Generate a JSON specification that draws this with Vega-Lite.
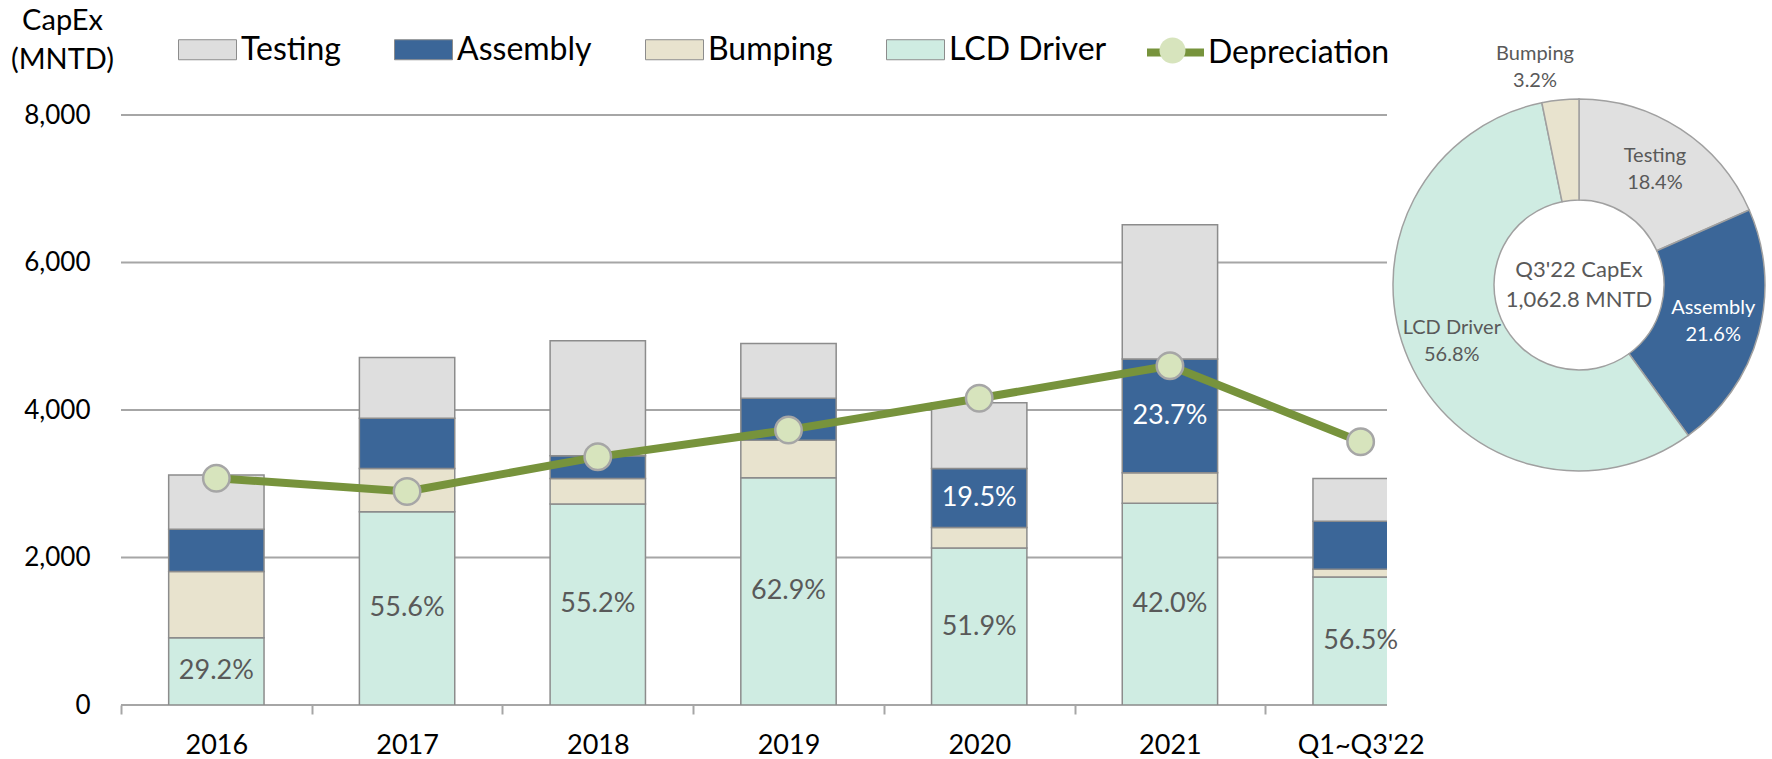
{
  "$schema": "https://vega.github.io/schema/vega-lite/v6.json",
  "background": "white",
  "padding": {"left": 10, "top": 6, "right": 0, "bottom": 0},
  "autosize": {"type": "pad"},
  "config": {
    "font": "Lato",
    "view": {"stroke": null},
    "axis": {"labelFont": "Lato", "titleFont": "Lato"},
    "legend": {"labelFont": "Lato"},
    "text": {"font": "Lato"}
  },
  "bounds": "flush",
  "spacing": 0,
  "resolve": {"scale": {"color": "independent"}, "legend": {"color": "independent"}},
  "datasets": {
    "grid": [
      {"value": 0}, {"value": 2000}, {"value": 4000}, {"value": 6000}, {"value": 8000}
    ],
    "capex": [
      {"period": "2016", "series": "LCD Driver", "k": 1, "value": 911, "label": "29.2%"},
      {"period": "2016", "series": "Bumping", "k": 2, "value": 898, "label": ""},
      {"period": "2016", "series": "Assembly", "k": 3, "value": 574, "label": ""},
      {"period": "2016", "series": "Testing", "k": 4, "value": 737, "label": ""},
      {"period": "2017", "series": "LCD Driver", "k": 1, "value": 2620, "label": "55.6%"},
      {"period": "2017", "series": "Bumping", "k": 2, "value": 586, "label": ""},
      {"period": "2017", "series": "Assembly", "k": 3, "value": 683, "label": ""},
      {"period": "2017", "series": "Testing", "k": 4, "value": 823, "label": ""},
      {"period": "2018", "series": "LCD Driver", "k": 1, "value": 2726, "label": "55.2%"},
      {"period": "2018", "series": "Bumping", "k": 2, "value": 344, "label": ""},
      {"period": "2018", "series": "Assembly", "k": 3, "value": 308, "label": ""},
      {"period": "2018", "series": "Testing", "k": 4, "value": 1560, "label": ""},
      {"period": "2019", "series": "LCD Driver", "k": 1, "value": 3083, "label": "62.9%"},
      {"period": "2019", "series": "Bumping", "k": 2, "value": 507, "label": ""},
      {"period": "2019", "series": "Assembly", "k": 3, "value": 570, "label": ""},
      {"period": "2019", "series": "Testing", "k": 4, "value": 742, "label": ""},
      {"period": "2020", "series": "LCD Driver", "k": 1, "value": 2128, "label": "51.9%"},
      {"period": "2020", "series": "Bumping", "k": 2, "value": 280, "label": ""},
      {"period": "2020", "series": "Assembly", "k": 3, "value": 800, "label": "19.5%"},
      {"period": "2020", "series": "Testing", "k": 4, "value": 892, "label": ""},
      {"period": "2021", "series": "LCD Driver", "k": 1, "value": 2735, "label": "42.0%"},
      {"period": "2021", "series": "Bumping", "k": 2, "value": 414, "label": ""},
      {"period": "2021", "series": "Assembly", "k": 3, "value": 1543, "label": "23.7%"},
      {"period": "2021", "series": "Testing", "k": 4, "value": 1820, "label": ""},
      {"period": "Q1~Q3'22", "series": "LCD Driver", "k": 1, "value": 1735, "label": "56.5%"},
      {"period": "Q1~Q3'22", "series": "Bumping", "k": 2, "value": 105, "label": ""},
      {"period": "Q1~Q3'22", "series": "Assembly", "k": 3, "value": 651, "label": ""},
      {"period": "Q1~Q3'22", "series": "Testing", "k": 4, "value": 579, "label": ""}
    ],
    "dep": [
      {"period": "2016", "value": 3075},
      {"period": "2017", "value": 2895},
      {"period": "2018", "value": 3365},
      {"period": "2019", "value": 3730},
      {"period": "2020", "value": 4160},
      {"period": "2021", "value": 4600},
      {"period": "Q1~Q3'22", "value": 3570}
    ],
    "pie": [
      {"series": "Testing", "k": 1, "share": 18.4, "lbl": "Testing\n18.4%"},
      {"series": "Assembly", "k": 2, "share": 21.6, "lbl": "Assembly\n21.6%"},
      {"series": "LCD Driver", "k": 3, "share": 56.8, "lbl": "LCD Driver\n56.8%"},
      {"series": "Bumping", "k": 4, "share": 3.2, "lbl": "Bumping\n3.2%"}
    ]
  },
  "hconcat": [
    {
      "width": 1266,
      "height": 590,
      "layer": [
        {
          "data": {"name": "grid"},
          "mark": {"type": "rule", "color": "#A6A6A6", "strokeWidth": 2},
          "encoding": {
            "y": {
              "field": "value", "type": "quantitative",
              "scale": {"domain": [0, 8000], "nice": false},
              "axis": {
                "values": [0, 2000, 4000, 6000, 8000], "format": ",.0f",
                "grid": false, "domain": false, "ticks": false,
                "labelFontSize": 26, "labelColor": "#000000", "labelPadding": 31,
                "title": ["CapEx", "(MNTD)"], "titleAngle": 0, "titleFontSize": 29,
                "titleFontWeight": "normal", "titleColor": "#000000",
                "titleAlign": "center", "titleBaseline": "middle", "titleLineHeight": 39,
                "titleX": -59, "titleY": -95
              }
            }
          }
        },
        {
          "data": {"name": "capex"},
          "mark": {"type": "bar", "stroke": "#8C8C8C", "strokeWidth": 1.5, "clip": true},
          "encoding": {
            "x": {
              "field": "period", "type": "nominal", "sort": null,
              "scale": {"paddingInner": 0.5, "paddingOuter": 0.25, "range": [0, 1335]},
              "axis": {
                "title": null, "labelFontSize": 27, "labelColor": "#000000", "labelAngle": 0,
                "bandPosition": 0.5, "tickOffset": -95.35, "labelOffset": 95.35, "tickExtra": false,
                "tickSize": 9, "tickColor": "#A6A6A6", "tickWidth": 2,
                "domain": false, "labelPadding": 18, "grid": false
              }
            },
            "y": {"field": "value", "type": "quantitative", "stack": "zero"},
            "color": {
              "field": "series", "type": "nominal",
              "scale": {
                "domain": ["Testing", "Assembly", "Bumping", "LCD Driver"],
                "range": ["#DEDEDE", "#3B6698", "#E8E3CE", "#CFECE2"]
              },
              "legend": {
                "orient": "none", "legendX": 57, "legendY": -95,
                "direction": "horizontal", "columns": 4, "title": null,
                "symbolType": "M-1,-0.345H1V0.345H-1Z", "symbolSize": 3364,
                "symbolStrokeColor": "#8C8C8C", "symbolStrokeWidth": 1,
                "labelFontSize": 32, "labelColor": "#000000", "labelOffset": 4,
                "columnPadding": 51, "padding": 0
              }
            },
            "order": {"field": "k", "type": "quantitative"}
          }
        },
        {
          "data": {"name": "capex"},
          "mark": {"type": "text", "fontSize": 27},
          "encoding": {
            "x": {"field": "period", "type": "nominal", "sort": null},
            "y": {"field": "value", "type": "quantitative", "stack": "zero", "bandPosition": 0.5},
            "order": {"field": "k", "type": "quantitative"},
            "text": {"field": "label", "type": "nominal"},
            "color": {"condition": {"test": "datum.series === 'Assembly'", "value": "#FFFFFF"}, "value": "#595959"}
          }
        },
        {
          "data": {"name": "dep"},
          "mark": {"type": "line", "strokeWidth": 8},
          "encoding": {
            "x": {"field": "period", "type": "nominal", "sort": null},
            "y": {"field": "value", "type": "quantitative"},
            "stroke": {
              "datum": "Depreciation", "type": "nominal",
              "scale": {"range": ["#77933C"]},
              "legend": {
                "orient": "none", "legendX": 1022, "legendY": -95, "title": null,
                "symbolSize": 3249, "symbolStrokeWidth": 8,
                "labelFontSize": 32, "labelColor": "#000000", "labelOffset": 0,
                "labelLimit": 400, "padding": 0
              }
            }
          }
        },
        {
          "data": {"name": "dep"},
          "mark": {"type": "point", "filled": true, "size": 700, "fill": "#D7E4BD", "stroke": "#A6A6A6", "strokeWidth": 2.5, "opacity": 1},
          "encoding": {
            "x": {"field": "period", "type": "nominal", "sort": null},
            "y": {"field": "value", "type": "quantitative"},
            "shape": {
              "datum": "marker", "type": "nominal",
              "scale": {"range": ["circle"]},
              "legend": {
                "orient": "none", "legendX": 1037, "legendY": -79, "title": null,
                "symbolSize": 676, "symbolFillColor": "#D7E4BD", "symbolStrokeColor": "#A6A6A6",
                "symbolStrokeWidth": 2.5, "labelExpr": "''", "labelFontSize": 1, "padding": 0
              }
            }
          }
        }
      ]
    },
    {
      "width": 384,
      "height": 340,
      "view": {"fill": "white", "stroke": null},
      "layer": [
        {
          "data": {"name": "pie"},
          "mark": {"type": "arc", "outerRadius": 186, "innerRadius": 85, "stroke": "#A0A0A0", "strokeWidth": 1.5},
          "encoding": {
            "theta": {"field": "share", "type": "quantitative", "stack": true},
            "order": {"field": "k", "type": "quantitative"},
            "color": {
              "field": "series", "type": "nominal",
              "scale": {
                "domain": ["Testing", "Assembly", "Bumping", "LCD Driver"],
                "range": ["#E0E0E0", "#3B6698", "#E8E3CE", "#CFECE2"]
              },
              "legend": null
            }
          }
        },
        {
          "data": {"name": "pie"},
          "mark": {"type": "text", "radius": 139, "dy": -13, "fontSize": 20, "lineBreak": "\n", "lineHeight": 27},
          "encoding": {
            "theta": {"field": "share", "type": "quantitative", "stack": true},
            "order": {"field": "k", "type": "quantitative"},
            "text": {"field": "lbl", "type": "nominal", "condition": {"test": "datum.series === 'Bumping'", "value": ""}},
            "color": {"condition": {"test": "datum.series === 'Assembly'", "value": "#FFFFFF"}, "value": "#595959"}
          }
        },
        {
          "data": {"name": "pie"},
          "mark": {"type": "text", "radius": 219, "dx": -22, "dy": -13, "fontSize": 20, "lineBreak": "\n", "lineHeight": 27, "color": "#595959"},
          "encoding": {
            "theta": {"field": "share", "type": "quantitative", "stack": true},
            "order": {"field": "k", "type": "quantitative"},
            "text": {"field": "lbl", "type": "nominal", "condition": {"test": "datum.series !== 'Bumping'", "value": ""}}
          }
        },
        {
          "data": {"values": [{"t": "Q3'22 CapEx\n1,062.8 MNTD"}]},
          "mark": {"type": "text", "fontSize": 22, "dy": -15, "lineBreak": "\n", "lineHeight": 30, "color": "#595959"},
          "encoding": {"text": {"field": "t", "type": "nominal"}}
        }
      ]
    }
  ]
}
